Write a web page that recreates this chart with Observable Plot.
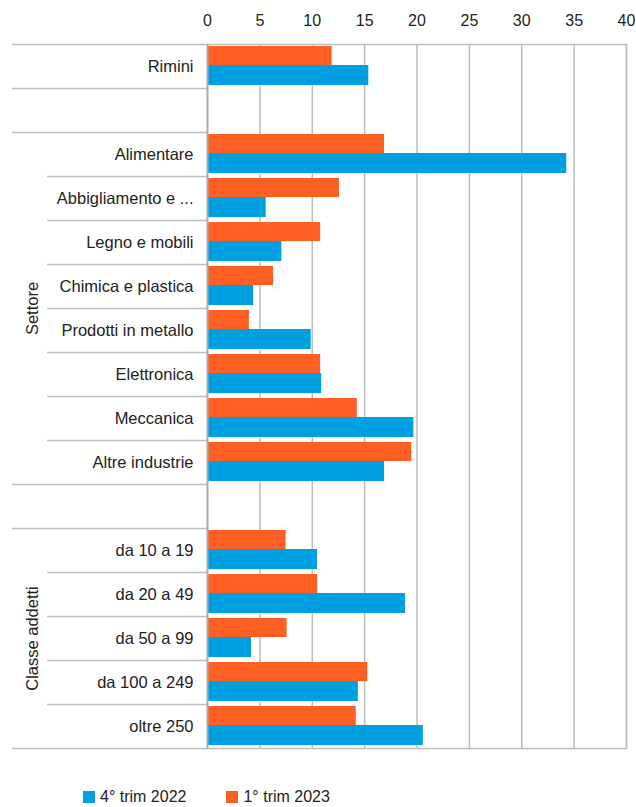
<!DOCTYPE html>
<html>
<head>
<meta charset="utf-8">
<script src="https://cdn.jsdelivr.net/npm/d3@7"></script>
<script src="https://cdn.jsdelivr.net/npm/@observablehq/plot@0.6"></script>
<style>
  body { margin: 0; background: #fff; font-family: 'Liberation Sans Narrow', 'Arial Narrow', 'Liberation Sans', sans-serif; }
  #legend { margin-top: 35px; margin-left: 83px; display: flex; gap: 40px; font-size: 16px; color: #222; line-height: 20px; }
  #legend span.sw { display: inline-block; width: 12px; height: 12px; margin-right: 5px; vertical-align: -1px; }
</style>
</head>
<body>
<div id="chart"></div>
<div id="legend"></div>
<script>
// Row categories (blank keys are the empty separator rows)
const categories = ["Rimini", " ", "Alimentare", "Abbigliamento e ...", "Legno e mobili", "Chimica e plastica",
  "Prodotti in metallo", "Elettronica", "Meccanica", "Altre industrie", "  ",
  "da 10 a 19", "da 20 a 49", "da 50 a 99", "da 100 a 249", "oltre 250"];
// Series values
const trim4_2022 = [15.4, null, 34.3, 5.6, 7.1, 4.4, 9.9, 10.9, 19.7, 16.9, null, 10.5, 18.9, 4.2, 14.4, 20.6];
const trim1_2023 = [11.9, null, 16.9, 12.6, 10.8, 6.3, 4.0, 10.8, 14.3, 19.5, null, 7.5, 10.5, 7.6, 15.3, 14.2];
const seriesNames = ["4° trim 2022", "1° trim 2023"];
const seriesColors = ["#009fdf", "#ff5f22"];
const xTicks = [0, 5, 10, 15, 20, 25, 30, 35, 40];

// Separator lines of the label table
const longTop = ["Rimini", "Alimentare", "da 10 a 19"];
const longBottom = ["Rimini", "Altre industrie", "oltre 250"];
const shortTop = ["Abbigliamento e ...", "Legno e mobili", "Chimica e plastica", "Prodotti in metallo",
  "Elettronica", "Meccanica", "Altre industrie", "da 20 a 49", "da 50 a 99", "da 100 a 249", "oltre 250"];
const groupSettore = [{label: "Settore", at: "Prodotti in metallo"}];
const groupClasse = [{label: "Classe addetti", at: "da 50 a 99"}];

const rows4 = categories.map((c, i) => ({category: c, value: trim4_2022[i]})).filter(d => d.value != null);
const rows1 = categories.map((c, i) => ({category: c, value: trim1_2023[i]})).filter(d => d.value != null);

const lineColor = "#bdbdbd";
const chart = Plot.plot({
  width: 636,
  height: 752,
  marginTop: 44,
  marginBottom: 4,
  marginLeft: 207,
  marginRight: 10,
  style: {fontFamily: "'Liberation Sans Narrow', 'Arial Narrow', 'Liberation Sans', sans-serif", fontSize: "16.5px", color: "#222"},
  x: {domain: [0, 40]},
  y: {domain: categories, padding: 0},
  marks: [
    Plot.gridX(xTicks, {stroke: lineColor, strokeOpacity: 1, strokeWidth: 1.5}),
    Plot.barX(rows1, {x: "value", y: "category", fill: seriesColors[1], insetTop: 2, insetBottom: 23}),
    Plot.barX(rows4, {x: "value", y: "category", fill: seriesColors[0], insetTop: 21, insetBottom: 3}),
    Plot.frame({stroke: lineColor, strokeWidth: 1.5}),
    Plot.ruleX([0], {stroke: "#aaa", strokeWidth: 1.5}),
    Plot.axisX(xTicks, {anchor: "top", tickSize: 0, tickPadding: 19, fontSize: 16, label: null}),
    Plot.axisY({tickSize: 0, tickPadding: 14, label: null}),
    Plot.axisY(longTop, {tickSize: 195, dy: -22, tickFormat: () => "", stroke: lineColor, strokeWidth: 1.5, label: null}),
    Plot.axisY(longBottom, {tickSize: 195, dy: 22, tickFormat: () => "", stroke: lineColor, strokeWidth: 1.5, label: null}),
    Plot.axisY(shortTop, {tickSize: 160, dy: -22, tickFormat: () => "", stroke: lineColor, strokeWidth: 1.5, label: null}),
    Plot.text(groupSettore, {y: "at", text: "label", frameAnchor: "left", dx: -175, dy: -22, rotate: -90, textAnchor: "middle", fontSize: 16.5}),
    Plot.text(groupClasse, {y: "at", text: "label", frameAnchor: "left", dx: -175, rotate: -90, textAnchor: "middle", fontSize: 16.5})
  ]
});
document.getElementById("chart").appendChild(chart);

const legend = document.getElementById("legend");
seriesNames.forEach((name, i) => {
  const item = document.createElement("div");
  item.innerHTML = `<span class="sw" style="background:${seriesColors[i]}"></span>${name}`;
  legend.appendChild(item);
});
</script>
</body>
</html>
